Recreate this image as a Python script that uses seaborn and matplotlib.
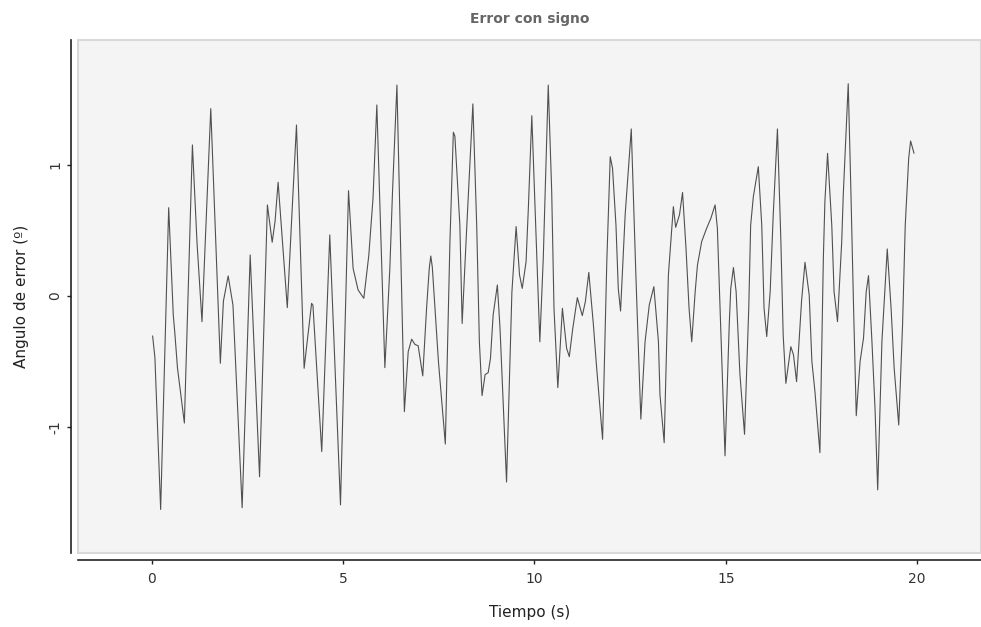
import matplotlib
matplotlib.use("Agg")
import matplotlib.pyplot as plt
from matplotlib.patches import Rectangle
import seaborn as sns
import pandas as pd

tiempo = [0.02, 0.08, 0.23, 0.44, 0.56, 0.60, 0.67, 0.85, 1.06, 1.18, 1.31, 1.54, 1.79, 1.87, 1.995, 2.12,
          2.36, 2.57, 2.815, 3.02, 3.145, 3.22, 3.30, 3.54, 3.66, 3.78, 3.98, 4.175, 4.21, 4.44, 4.65, 4.93,
          5.14, 5.26, 5.39, 5.54, 5.67, 5.78, 5.88, 6.09, 6.22, 6.29, 6.405, 6.60, 6.70, 6.79, 6.876, 6.96,
          7.08, 7.18, 7.25, 7.29, 7.33, 7.49, 7.67, 7.79, 7.88, 7.92, 8.05, 8.11, 8.22, 8.39, 8.49, 8.56,
          8.63, 8.71, 8.79, 8.85, 8.92, 9.03, 9.10, 9.27, 9.41, 9.52, 9.61, 9.68, 9.78, 9.84, 9.93, 10.14,
          10.23, 10.36, 10.45, 10.51, 10.61, 10.73, 10.84, 10.91, 11.00, 11.12, 11.25, 11.33, 11.42, 11.54,
          11.62, 11.78, 11.89, 11.98, 12.04, 12.13, 12.19, 12.25, 12.37, 12.53, 12.65, 12.78, 12.89, 13.00,
          13.12, 13.24, 13.28, 13.39, 13.50, 13.63, 13.69, 13.79, 13.87, 13.96, 14.04, 14.11, 14.20, 14.26,
          14.37, 14.50, 14.61, 14.72, 14.78, 14.85, 14.98, 15.09, 15.13, 15.20, 15.27, 15.37, 15.49, 15.60,
          15.65, 15.72, 15.85, 15.94, 16.00, 16.07, 16.16, 16.24, 16.35, 16.44, 16.50, 16.57, 16.70, 16.77,
          16.85, 16.94, 16.98, 17.07, 17.18, 17.25, 17.33, 17.46, 17.55, 17.59, 17.66, 17.77, 17.83, 17.92,
          18.03, 18.07, 18.20, 18.27, 18.34, 18.41, 18.51, 18.60, 18.67, 18.73, 18.82, 18.90, 18.97, 19.08,
          19.22, 19.32, 19.40, 19.52, 19.62, 19.69, 19.78, 19.83, 19.92]

error = [-0.305, -0.47, -1.63, 0.674, -0.145, -0.28, -0.55, -0.97, 1.153, 0.41, -0.196, 1.43, -0.514, -0.04, 0.153, -0.07,
         -1.616, 0.313, -1.38, 0.695, 0.41, 0.57, 0.868, -0.089, 0.62, 1.305, -0.552, -0.056, -0.07, -1.188, 0.466, -1.595,
         0.804, 0.21, 0.046, -0.018, 0.31, 0.745, 1.458, -0.547, 0.21, 0.796, 1.61, -0.883, -0.425, -0.33, -0.37, -0.38,
         -0.61, -0.094, 0.21, 0.305, 0.22, -0.50, -1.13, 0.41, 1.25, 1.22, 0.54, -0.21, 0.466, 1.466, 0.54, -0.35,
         -0.76, -0.60, -0.585, -0.476, -0.145, 0.084, -0.25, -1.42, 0.03, 0.53, 0.16, 0.058, 0.26, 0.67, 1.376, -0.35,
         0.29, 1.61, 0.8, -0.094, -0.70, -0.094, -0.40, -0.463, -0.25, -0.013, -0.15, -0.043, 0.18, -0.22,
         -0.53, -1.094, 0.26, 1.063, 0.975, 0.54, 0.058, -0.115, 0.62, 1.275, 0.16, -0.94, -0.35, -0.069,
         0.071, -0.35, -0.755, -1.12, 0.16, 0.682, 0.524, 0.62, 0.79, 0.364, -0.094, -0.35, 0.033, 0.237,
         0.415, 0.517, 0.593, 0.695, 0.517, -0.094, -1.22, -0.22, 0.058, 0.217, 0.033, -0.60, -1.056, -0.094,
         0.54, 0.758, 0.987, 0.54, -0.094, -0.31, 0.033, 0.62, 1.275, 0.415, -0.30, -0.667, -0.387, -0.45,
         -0.654, -0.22, -0.04, 0.257, 0.007, -0.50, -0.73, -1.196, 0.29, 0.72, 1.089, 0.54, 0.033, -0.196,
         0.415, 0.77, 1.62, 0.796, -0.094, -0.914, -0.50, -0.32, 0.033, 0.155, -0.35, -0.857, -1.48, -0.35,
         0.359, -0.094, -0.55, -0.985, -0.22, 0.54, 1.05, 1.183, 1.089]

x_ticks = [0, 5, 10, 15, 20]
y_ticks = [-1, 0, 1]

sns.set_theme(style="white")
plt.rcParams['font.family'] = ['DejaVu Sans']
plt.rcParams['axes.unicode_minus'] = False

df = pd.DataFrame({"Tiempo (s)": tiempo, "Angulo de error (º)": error})

fig = plt.figure(figsize=(9.81, 6.27), dpi=100)
ax = fig.add_axes([78 / 981, 1 - 553 / 627, 1 - 78 / 981, (553 - 40) / 627])
ax.set_facecolor("#f4f4f4")

sns.lineplot(data=df, x="Tiempo (s)", y="Angulo de error (º)", ax=ax,
             color="#505050", linewidth=0.8)

ax.set_xlim(-1.93, 21.67)
ax.set_ylim(-1.962, 1.954)
ax.set_xticks(x_ticks)
ax.set_yticks(y_ticks)

for s in ["top", "right"]:
    ax.spines[s].set_visible(False)
for s in ["left", "bottom"]:
    ax.spines[s].set_position(("outward", 5))
    ax.spines[s].set_color("#222222")
    ax.spines[s].set_linewidth(1.2)

ax.add_patch(Rectangle((0, 0), 1, 1, transform=ax.transAxes, fill=False,
                       edgecolor="#d8d8d8", linewidth=1.5, clip_on=False, zorder=0.5))

ax.tick_params(axis="both", which="major", length=3, width=1, color="#222222",
               labelsize=10, labelcolor="#333333", direction="out", bottom=True, left=True)
ax.tick_params(axis="x", pad=6)
for lbl in ax.get_yticklabels():
    lbl.set_rotation(90)
    lbl.set_va("center")

ax.set_xlabel("Tiempo (s)", fontsize=11, color="#222222", labelpad=13)
ax.set_ylabel("Angulo de error (º)", fontsize=11, color="#222222", labelpad=14)
ax.set_title("Error con signo", fontsize=10, fontweight="bold", color="#666666", pad=12)

fig.savefig("out.png", dpi=100)
